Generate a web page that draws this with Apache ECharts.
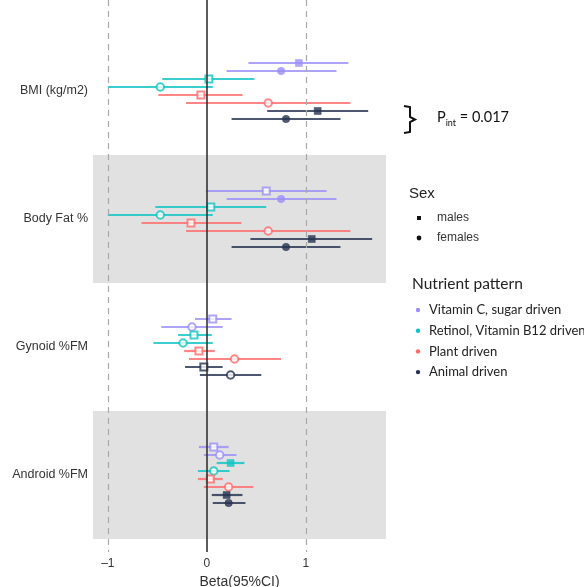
<!DOCTYPE html>
<html>
<head>
<meta charset="utf-8">
<script src="https://cdn.jsdelivr.net/npm/echarts@6/dist/echarts.min.js"></script>
<style>html,body{margin:0;padding:0;background:#fff}#c{width:584px;height:587px}</style>
</head>
<body>
<div id="c"></div>
<script>
// ---- data ----
const outcomes = ['BMI (kg/m2)', 'Body Fat %', 'Gynoid %FM', 'Android %FM'];
const patterns = ['Vitamin C, sugar driven', 'Retinol, Vitamin B12 driven', 'Plant driven', 'Animal driven'];
const sexes = ['males', 'females'];
const patternColors = ['#9b8ff7', '#0fc4c4', '#ff6b6b', '#24324f'];
const xTicks = [-1, 0, 1];

// each row: [beta, lower, upper, significant] per outcome (BMI, Body Fat, Gynoid, Android)
const vitCMales      = [[0.93, 0.42, 1.43, 1], [0.60, -0.01, 1.21, 0], [0.06, -0.12, 0.25, 0], [0.07, -0.08, 0.22, 0]];
const vitCFemales    = [[0.75, 0.20, 1.31, 1], [0.75, 0.20, 1.31, 1], [-0.15, -0.46, 0.16, 0], [0.13, -0.03, 0.30, 0]];
const retinolMales   = [[0.02, -0.45, 0.48, 0], [0.04, -0.52, 0.60, 0], [-0.13, -0.29, 0.05, 0], [0.24, 0.10, 0.38, 1]];
const retinolFemales = [[-0.47, -1.00, 0.06, 0], [-0.47, -1.00, 0.06, 0], [-0.24, -0.54, 0.06, 0], [0.07, -0.09, 0.23, 0]];
const plantMales     = [[-0.06, -0.49, 0.36, 0], [-0.16, -0.66, 0.35, 0], [-0.08, -0.23, 0.08, 0], [0.035, -0.09, 0.16, 0]];
const plantFemales   = [[0.62, -0.21, 1.45, 0], [0.62, -0.21, 1.45, 0], [0.28, -0.18, 0.75, 0], [0.22, -0.03, 0.47, 0]];
const animalMales    = [[1.12, 0.61, 1.63, 1], [1.06, 0.44, 1.67, 1], [-0.03, -0.22, 0.16, 0], [0.20, 0.05, 0.36, 1]];
const animalFemales  = [[0.80, 0.25, 1.35, 1], [0.80, 0.25, 1.35, 1], [0.24, -0.07, 0.55, 0], [0.22, 0.06, 0.39, 1]];

const bySeries = [
  [vitCMales, vitCFemales],
  [retinolMales, retinolFemales],
  [plantMales, plantFemales],
  [animalMales, animalFemales]
];

// ---- layout helpers (row positions on y value axis) ----
const groupPitch = 16;
function rowY(g, p, s) { return g * groupPitch + 8 + (p * 2 + s - 3.5); }

const series = [];
// background bands + reference lines
series.push({
  type: 'scatter', data: [], silent: true, z: 0,
  markArea: {
    silent: true,
    itemStyle: { color: '#e1e1e1' },
    data: [
      [{ yAxis: groupPitch * 1 }, { yAxis: groupPitch * 2 }],
      [{ yAxis: groupPitch * 3 }, { yAxis: groupPitch * 4 }]
    ]
  },
  markLine: {
    silent: true, symbol: 'none', label: { show: false },
    data: [
      { xAxis: -1, lineStyle: { color: '#a8a8a8', type: [6, 5], width: 1.2 } },
      { xAxis: 1, lineStyle: { color: '#a8a8a8', type: [6, 5], width: 1.2 } },
      { xAxis: 0, lineStyle: { color: '#333', type: 'solid', width: 1.6 } }
    ]
  }
});

patterns.forEach((pname, p) => {
  const col = patternColors[p];
  const ci = [];
  const pts = [];
  outcomes.forEach((o, g) => {
    sexes.forEach((sx, s) => {
      const r = bySeries[p][s][g];
      const y = rowY(g, p, s);
      ci.push([r[1], r[2], y]);
      const filled = r[3] === 1;
      pts.push({
        value: [r[0], y],
        symbol: s === 0 ? 'rect' : 'circle',
        symbolSize: s === 0 ? 7 : 7.5,
        itemStyle: filled ? { color: col, borderColor: col, borderWidth: 0.5 }
                          : { color: '#fff', borderColor: col, borderWidth: 2 }
      });
    });
  });
  series.push({
    type: 'custom', name: pname, z: 2, silent: true,
    data: ci,
    renderItem: function (params, api) {
      const a = api.coord([api.value(0), api.value(2)]);
      const b = api.coord([api.value(1), api.value(2)]);
      return { type: 'line', shape: { x1: a[0], y1: a[1], x2: b[0], y2: b[1] },
               style: { stroke: col, lineWidth: 2.2, opacity: 0.82 } };
    }
  });
  series.push({ type: 'scatter', name: pname, z: 3, silent: true, data: pts });
});

const chart = echarts.init(document.getElementById('c'));
chart.setOption({
  animation: false,
  grid: { left: 93, top: 0, width: 293, height: 552, containLabel: false, outerBoundsMode: 'none' },
  xAxis: {
    type: 'value', min: -1.15, max: 1.81,
    axisLine: { show: false }, axisTick: { show: false }, splitLine: { show: false },
    axisLabel: { customValues: xTicks, formatter: v => (v < 0 ? '\u2013' + Math.abs(v) : String(v)),
                 color: '#333', fontSize: 12, fontFamily: 'Liberation Sans', margin: 6 },
    name: 'Beta(95%CI)', nameLocation: 'middle', nameGap: 20,
    nameTextStyle: { color: '#333', fontSize: 14, fontFamily: 'Liberation Sans' }
  },
  yAxis: {
    type: 'value', inverse: true, min: -27 / 8, max: (552 - 27) / 8,
    axisLine: { show: false }, axisTick: { show: false }, splitLine: { show: false },
    axisLabel: {
      customValues: outcomes.map((o, g) => g * groupPitch + 8),
      formatter: v => outcomes[Math.round((v - 8) / groupPitch)],
      color: '#333', fontSize: 12.5, fontFamily: 'Liberation Sans', margin: 5
    }
  },
  series: series,
  graphic: [
    { type: 'polyline', silent: true,
      shape: { points: [[404, 106], [410, 107], [410, 117], [415, 119.5], [410, 122], [410, 132], [404, 133]] },
      style: { stroke: '#111', lineWidth: 2, fill: null } },
    { type: 'text', left: 437, top: 110, silent: true,
      style: { text: '{p|P}{s|int}{p| = 0.017}', rich: {
        p: { fontSize: 14.5, fontFamily: 'Lato', fill: '#111', lineHeight: 20, verticalAlign: 'bottom' },
        s: { fontSize: 9, fontFamily: 'Lato', fill: '#111', lineHeight: 14, verticalAlign: 'bottom', padding: [0, 0, -3, 0] } } } },
    { type: 'text', x: 409, y: 194, silent: true,
      style: { text: 'Sex', fontSize: 15, fontFamily: 'Liberation Sans', fill: '#222', verticalAlign: 'middle' } },
    { type: 'rect', x: 417, y: 216, shape: { width: 4, height: 4 }, style: { fill: '#111' }, silent: true },
    { type: 'text', x: 437, y: 218, silent: true,
      style: { text: 'males', fontSize: 12, fontFamily: 'Liberation Sans', fill: '#333', verticalAlign: 'middle' } },
    { type: 'circle', shape: { cx: 419, cy: 238, r: 2.4 }, style: { fill: '#111' }, silent: true },
    { type: 'text', x: 437, y: 238, silent: true,
      style: { text: 'females', fontSize: 12, fontFamily: 'Liberation Sans', fill: '#333', verticalAlign: 'middle' } },
    { type: 'text', x: 412, y: 284, silent: true,
      style: { text: 'Nutrient pattern', fontSize: 15.5, fontFamily: 'Lato', fill: '#222', verticalAlign: 'middle' } }
  ].concat(patterns.flatMap((pn, p) => [
    { type: 'circle', shape: { cx: 418, cy: 310 + p * 20.7, r: 2.2 }, style: { fill: patternColors[p] }, silent: true },
    { type: 'text', x: 429, y: 310 + p * 20.7, silent: true,
      style: { text: pn, fontSize: 13, fontFamily: 'Lato', fill: '#222', verticalAlign: 'middle' } }
  ]))
});
</script>
</body>
</html>
